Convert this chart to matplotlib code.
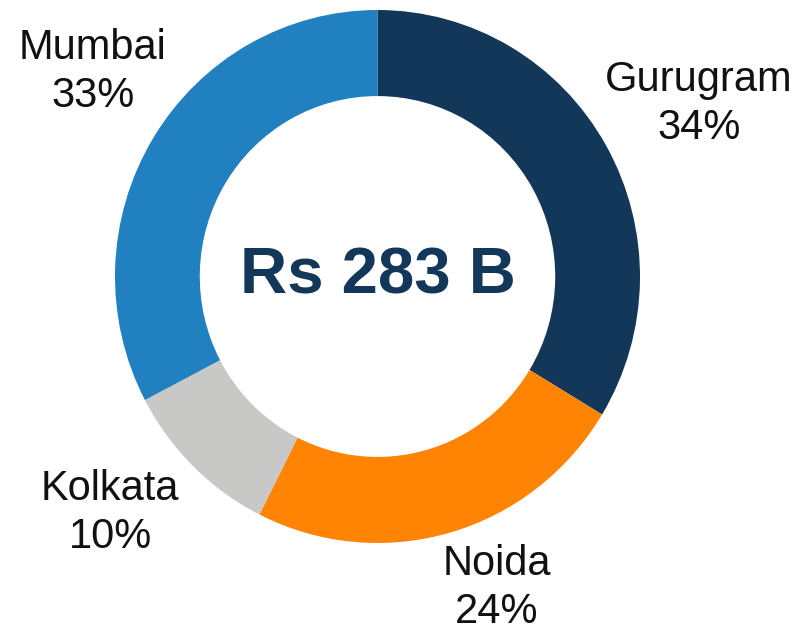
import matplotlib.pyplot as plt

cities = ["Gurugram", "Noida", "Kolkata", "Mumbai"]
shares = [34, 24, 10, 33]
colors = ["#123759", "#FF8403", "#C8C8C6", "#2180BF"]
total_label = "Rs 283 B"

W, H = 808, 634
cx, cy = 377.5, 276.5      # donut centre, pixels from top-left
rx, ry = 262.5, 266.5      # outer radius in x / y pixels

fig = plt.figure(figsize=(W / 100, H / 100), dpi=100)
ax = fig.add_axes([0, 0, 1, 1])

wedges, _ = ax.pie(shares, colors=colors, startangle=90, counterclock=False,
                   radius=1.0, wedgeprops=dict(width=0.323, linewidth=0))
ax.set_aspect("auto")
ax.set_xlim(-cx / rx, (W - cx) / rx)
ax.set_ylim(-(H - cy) / ry, cy / ry)
ax.axis("off")

def px(x, y):
    return (x - cx) / rx, (cy - y) / ry

font = "Liberation Sans"
label_pos = {"Gurugram": (699, 104), "Noida": (497, 588),
             "Kolkata": (110, 513), "Mumbai": (93, 72)}
for name, val in zip(cities, shares):
    x, y = px(*label_pos[name])
    ax.text(x, y, f"{name}\n{val}%", ha="center", va="center",
            fontsize=30, family=font, color="#111111", linespacing=1.27)

ax.text(*px(378, 277), total_label, ha="center", va="center", fontsize=47,
        family=font, fontweight="bold", color="#123759")

fig.savefig("out.png", dpi=100)
